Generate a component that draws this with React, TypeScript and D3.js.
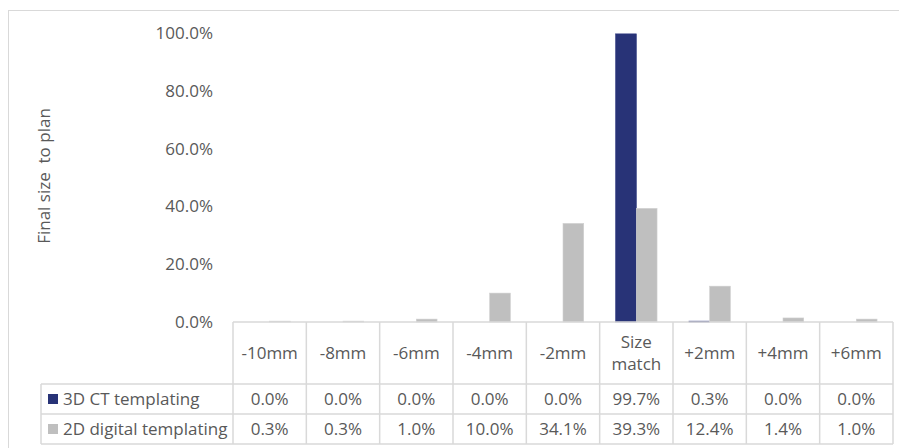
import React from "react"
import * as d3 from "d3"

// categories and series
const categories = ["-10mm", "-8mm", "-6mm", "-4mm", "-2mm", "Size\nmatch", "+2mm", "+4mm", "+6mm"]
const seriesNames = ["3D CT templating", "2D digital templating"]
const ct3d = [0.0, 0.0, 0.0, 0.0, 0.0, 99.7, 0.3, 0.0, 0.0]
const digital2d = [0.3, 0.3, 1.0, 10.0, 34.1, 39.3, 12.4, 1.4, 1.0]
const yTicks = [0, 20, 40, 60, 80, 100]
const colors = ["#283377", "#bfbfbf"]

const W = 899
const H = 448
const font = "'Open Sans', sans-serif"
const fs = 17
const textColor = "#595959"
const gridColor = "#d9d9d9"

export default function App() {
  const series = [ct3d, digital2d]
  const plotLeft = 233
  const plotRight = 893
  const baseY = 322
  const topY = 33
  const headerBottom = 384
  const rowH = 30
  const legendLeft = 41

  const x = d3.scaleBand<string>().domain(categories).range([plotLeft, plotRight])
  const x1 = d3
    .scaleBand<string>()
    .domain(seriesNames)
    .range([0, x.bandwidth()])
    .paddingInner(0)
    .paddingOuter(0.77)
  const y = d3.scaleLinear().domain([0, 100]).range([baseY, topY])
  const fmt = (v: number) => v.toFixed(1) + "%"

  const colEdges = categories.map((c) => x(c)!).concat([plotRight])

  return (
    <svg width={W} height={H} style={{ position: "absolute", left: 0, top: 0 }}>
      <rect x={0} y={0} width={W} height={H} fill="#fff" />
      {/* outer chart border */}
      <rect x={8.5} y={10.5} width={W + 10} height={H + 10} fill="none" stroke={gridColor} />

      {/* y axis labels */}
      {yTicks.map((t) => (
        <text
          key={t}
          x={213}
          y={y(t)}
          dy="0.35em"
          textAnchor="end"
          fontFamily={font}
          fontSize={fs}
          fill={textColor}
        >
          {fmt(t)}
        </text>
      ))}
      <text
        transform={`translate(50,${176}) rotate(-90)`}
        textAnchor="middle"
        fontFamily={font}
        fontSize={fs}
        fill={textColor}
        style={{ whiteSpace: "pre" }}
      >
        {"Final size  to plan"}
      </text>

      {/* bars */}
      {series.map((vals, si) => (
        <g key={si}>
          {vals.map((v, i) => (
            <rect
              key={i}
              x={x(categories[i])! + x1(seriesNames[si])!}
              y={y(v)}
              width={x1.bandwidth()}
              height={baseY - y(v)}
              fill={colors[si]}
              stroke={si === 1 ? "#d0d0d0" : "#2f3a80"}
              strokeWidth={0.6}
            />
          ))}
        </g>
      ))}

      {/* data table grid */}
      <g stroke={gridColor} strokeWidth={1.5} fill="none">
        <line x1={plotLeft} x2={plotRight} y1={baseY} y2={baseY} />
        <line x1={legendLeft} x2={plotRight} y1={headerBottom} y2={headerBottom} />
        <line x1={legendLeft} x2={plotRight} y1={headerBottom + rowH} y2={headerBottom + rowH} />
        <line x1={legendLeft} x2={plotRight} y1={headerBottom + 2 * rowH} y2={headerBottom + 2 * rowH} />
        <line x1={legendLeft} x2={legendLeft} y1={headerBottom} y2={headerBottom + 2 * rowH} />
        {colEdges.map((cx, i) => (
          <line key={i} x1={cx} x2={cx} y1={baseY} y2={headerBottom + 2 * rowH} />
        ))}
      </g>

      {/* category headers */}
      {categories.map((c) => {
        const lines = c.split("\n")
        const cx = x(c)! + x.bandwidth() / 2
        const cy = (baseY + headerBottom) / 2
        return (
          <text key={c} textAnchor="middle" fontFamily={font} fontSize={fs} fill={textColor}>
            {lines.map((l, li) => (
              <tspan key={li} x={cx} y={cy + (li - (lines.length - 1) / 2) * 22} dy="0.35em">
                {l}
              </tspan>
            ))}
          </text>
        )
      })}

      {/* data rows with legend keys */}
      {series.map((vals, si) => {
        const cy = headerBottom + rowH * si + rowH / 2
        return (
          <g key={si}>
            <rect x={48} y={cy - 5} width={10} height={10} fill={colors[si]} />
            <text x={63} y={cy} dy="0.35em" fontFamily={font} fontSize={fs} fill={textColor}>
              {seriesNames[si]}
            </text>
            {vals.map((v, i) => (
              <text
                key={i}
                x={x(categories[i])! + x.bandwidth() / 2}
                y={cy}
                dy="0.35em"
                textAnchor="middle"
                fontFamily={font}
                fontSize={fs}
                fill={textColor}
              >
                {fmt(v)}
              </text>
            ))}
          </g>
        )
      })}
    </svg>
  )
}
